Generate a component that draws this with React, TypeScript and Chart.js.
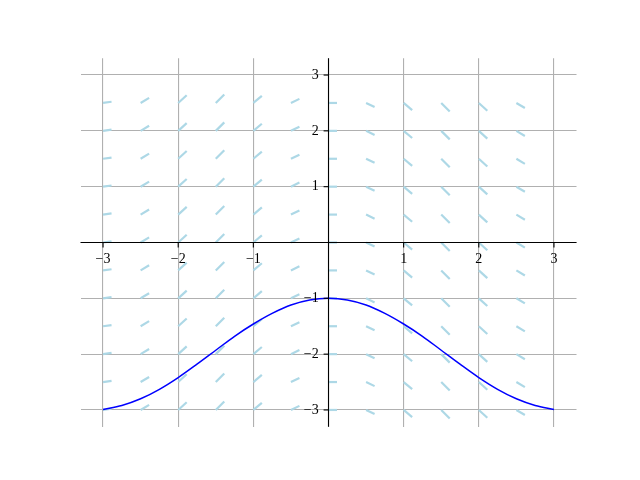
import React, { useEffect, useRef } from "react";
import { Chart, registerables } from "chart.js";

Chart.register(...registerables);

// Slope field grid (dy/dx read per column)
const FIELD_X = [-3, -2.5, -2, -1.5, -1, -0.5, 0, 0.5, 1, 1.5, 2, 2.5];
const FIELD_Y = [-3, -2.5, -2, -1.5, -1, -0.5, 0, 0.5, 1, 1.5, 2, 2.5];
const FIELD_SLOPES = [0.14, 0.6, 0.91, 1.0, 0.84, 0.48, 0, -0.48, -0.84, -1.0, -0.91, -0.6];

// Solution curve
const CURVE_X = [-3, -2.75, -2.5, -2.25, -2, -1.75, -1.5, -1.25, -1, -0.75, -0.5, -0.25, 0,
  0.25, 0.5, 0.75, 1, 1.25, 1.5, 1.75, 2, 2.25, 2.5, 2.75, 3];
const CURVE_Y = [-2.99, -2.92, -2.8, -2.63, -2.42, -2.18, -1.93, -1.68, -1.46, -1.27, -1.12, -1.03, -1.0,
  -1.03, -1.12, -1.27, -1.46, -1.68, -1.93, -2.18, -2.42, -2.63, -2.8, -2.92, -2.99];

// Axes
const AXIS_MIN = -3.3;
const AXIS_MAX = 3.3;
const GRID_TICKS = [-3, -2, -1, 0, 1, 2, 3];
const X_TICKS = [-3, -2, -1, 1, 2, 3];
const X_TICK_LABELS = ["\u22123", "\u22122", "\u22121", "1", "2", "3"];
const Y_TICKS = [-3, -2, -1, 1, 2, 3];
const Y_TICK_LABELS = ["\u22123", "\u22122", "\u22121", "1", "2", "3"];

const SEG_LEN = 8.5;
const FONT = '14px "Liberation Serif", "Times New Roman", serif';

const overlayPlugin = {
  id: "overlay",
  beforeDatasetsDraw(chart: any) {
    const { ctx } = chart;
    const xs = chart.scales.x;
    const ys = chart.scales.y;
    ctx.save();
    ctx.strokeStyle = "#add8e6";
    ctx.lineWidth = 2.2;
    ctx.lineCap = "butt";
    FIELD_X.forEach((xv, i) => {
      const s = FIELD_SLOPES[i];
      FIELD_Y.forEach((yv) => {
        const px = xs.getPixelForValue(xv);
        const py = ys.getPixelForValue(yv);
        ctx.beginPath();
        ctx.moveTo(px, py);
        ctx.lineTo(px + SEG_LEN, py - SEG_LEN * s);
        ctx.stroke();
      });
    });
    ctx.restore();
  },
  afterDatasetsDraw(chart: any) {
    const { ctx, chartArea } = chart;
    const xs = chart.scales.x;
    const ys = chart.scales.y;
    const x0 = xs.getPixelForValue(0);
    const y0 = ys.getPixelForValue(0);
    ctx.save();
    ctx.strokeStyle = "#000";
    ctx.lineWidth = 1.1;
    ctx.beginPath();
    ctx.moveTo(chartArea.left, y0);
    ctx.lineTo(chartArea.right, y0);
    ctx.moveTo(x0, chartArea.top);
    ctx.lineTo(x0, chartArea.bottom);
    ctx.stroke();
    ctx.font = FONT;
    ctx.fillStyle = "#000";
    X_TICKS.forEach((v, i) => {
      const px = xs.getPixelForValue(v);
      ctx.beginPath();
      ctx.moveTo(px, y0);
      ctx.lineTo(px, y0 + 4.9);
      ctx.stroke();
      ctx.textAlign = "center";
      ctx.textBaseline = "top";
      ctx.fillText(X_TICK_LABELS[i], px, y0 + 9.5);
    });
    Y_TICKS.forEach((v, i) => {
      const py = ys.getPixelForValue(v);
      ctx.beginPath();
      ctx.moveTo(x0, py);
      ctx.lineTo(x0 - 4.9, py);
      ctx.stroke();
      ctx.textAlign = "right";
      ctx.textBaseline = "middle";
      ctx.fillText(Y_TICK_LABELS[i], x0 - 9.8, py);
    });
    ctx.restore();
  },
};

const gridScale = (axisMin: number, axisMax: number) => ({
  type: "linear" as const,
  min: axisMin,
  max: axisMax,
  afterBuildTicks: (scale: any) => {
    scale.ticks = GRID_TICKS.map((v) => ({ value: v }));
  },
  grid: { color: "#b0b0b0", lineWidth: 1.1, drawTicks: false },
  border: { display: false },
  ticks: { display: false },
});

export default function App() {
  const canvasRef = useRef<HTMLCanvasElement | null>(null);

  useEffect(() => {
    if (!canvasRef.current) return;
    const chart = new Chart(canvasRef.current, {
      type: "scatter",
      data: {
        datasets: [
          {
            data: CURVE_X.map((x, i) => ({ x, y: CURVE_Y[i] })),
            showLine: true,
            borderColor: "#0000ff",
            borderWidth: 1.5,
            pointRadius: 0,
            cubicInterpolationMode: "monotone",
            fill: false,
          },
        ],
      },
      options: {
        responsive: false,
        animation: false,
        devicePixelRatio: 1,
        layout: { padding: { left: 80.5, top: 58.3, right: 63.5, bottom: 53.3 } },
        plugins: { legend: { display: false }, tooltip: { enabled: false } },
        scales: {
          x: gridScale(AXIS_MIN, AXIS_MAX),
          y: gridScale(AXIS_MIN, AXIS_MAX),
        },
      },
      plugins: [overlayPlugin],
    });
    return () => chart.destroy();
  }, []);

  return (
    <div style={{ position: "absolute", left: 0, top: 0, width: 640, height: 480, background: "#fff" }}>
      <canvas ref={canvasRef} width={640} height={480} />
    </div>
  );
}
